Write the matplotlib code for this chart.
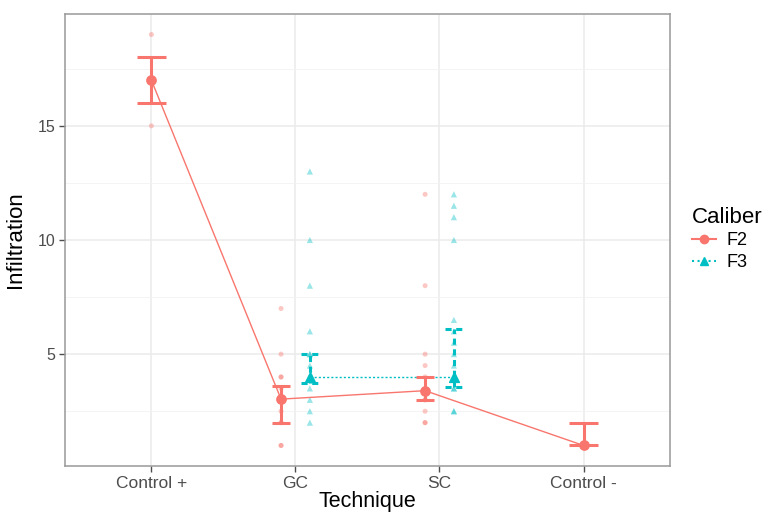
import numpy as np
import matplotlib
matplotlib.use("Agg")
import matplotlib.pyplot as plt
from matplotlib.lines import Line2D

plt.rcParams['font.family'] = ['Liberation Sans', 'DejaVu Sans']

techniques = ['Control +', 'GC', 'SC', 'Control -']

# raw observations per technique (F2)
f2_raw = {
    'Control +': [19, 15],
    'GC': [7, 5, 4, 4, 3.5, 3, 3, 2.5, 2, 2, 1, 1],
    'SC': [12, 8, 5, 4.5, 4, 3.5, 3, 3, 2.5, 2, 2],
    'Control -': [1, 1, 1],
}
# raw observations per technique (F3)
f3_raw = {
    'GC': [13, 10, 8, 6, 5, 5, 4.5, 4, 4, 4, 3.5, 3, 2.5, 2],
    'SC': [12, 11.5, 11, 10, 6.5, 6, 5.5, 5, 4.5, 4, 4, 3.5, 3.5, 2.5, 2.5],
}

# summary: mean with interval
f2_mean = [17, 3.03, 3.4, 1.0]
f2_low = [16, 2.0, 3.0, 1.0]
f2_high = [18, 3.6, 4.0, 2.0]

f3_tech = ['GC', 'SC']
f3_mean = [4.0, 4.0]
f3_low = [3.75, 3.55]
f3_high = [5.0, 6.1]

c_f2 = '#F8766D'
c_f3 = '#00BFC4'
dodge = 0.1

fig = plt.figure(figsize=(7.67, 5.12), dpi=100)
ax = fig.add_axes([0.0847, 0.0898, 0.7888, 0.8829])

xpos = {t: i + 1 for i, t in enumerate(techniques)}

def f2_x(t):
    return xpos[t] - dodge if t in f3_raw else xpos[t]

# raw points
for t, vals in f2_raw.items():
    ax.scatter([f2_x(t)] * len(vals), vals, s=13, color=c_f2, alpha=0.4,
               edgecolors='none', zorder=2)
for t, vals in f3_raw.items():
    ax.scatter([xpos[t] + dodge] * len(vals), vals, s=20, marker='^', color=c_f3,
               alpha=0.4, edgecolors='none', zorder=2)

# F2 means, line and error bars
x2 = [f2_x(t) for t in techniques]
ax.plot(x2, f2_mean, color=c_f2, lw=1, zorder=3)
for t, x, m, lo, hi in zip(techniques, x2, f2_mean, f2_low, f2_high):
    cap = 0.1 if t not in f3_raw else 0.06
    ax.vlines(x, lo, hi, color=c_f2, lw=2.2, zorder=4)
    ax.hlines([lo, hi], x - cap, x + cap, color=c_f2, lw=2.2, zorder=4)
ax.scatter(x2, f2_mean, s=45, color=c_f2, zorder=5)

# F3 means, line and error bars
x3 = [xpos[t] + dodge for t in f3_tech]
ax.plot(x3, f3_mean, color=c_f3, lw=1, ls=(0, (1.5, 1.5)), zorder=3)
for x, m, lo, hi in zip(x3, f3_mean, f3_low, f3_high):
    ax.vlines(x, lo, hi, color=c_f3, lw=2.2, linestyles=(0, (2, 1.5)), zorder=4)
    ax.hlines([lo, hi], x - 0.06, x + 0.06, color=c_f3, lw=2.2,
              linestyles=(0, (2, 1.5)), zorder=4)
ax.scatter(x3, f3_mean, s=50, marker='^', color=c_f3, zorder=5)

ax.set_xlim(0.4, 4.6)
ax.set_ylim(0.1, 19.9)
ax.set_xticks(range(1, 5))
ax.set_xticklabels(techniques)
ax.set_yticks([5, 10, 15])
ax.set_yticks([2.5, 7.5, 12.5, 17.5], minor=True)
ax.tick_params(axis='x', labelsize=12.5, colors='#4d4d4d', length=4, width=1, pad=3)
ax.tick_params(axis='y', labelsize=11.5, colors='#4d4d4d', length=4, width=1, pad=3)
ax.tick_params(axis='y', which='minor', length=0)
for lbl in ax.get_xticklabels() + ax.get_yticklabels():
    lbl.set_color('#4d4d4d')
ax.grid(True, which='major', color='#ebebeb', lw=1.1)
ax.grid(True, which='minor', axis='y', color='#f2f2f2', lw=0.6)
ax.set_axisbelow(True)
for sp in ax.spines.values():
    sp.set_color('#999999')
    sp.set_linewidth(1.1)

ax.set_xlabel('Technique', fontsize=15.5, labelpad=0)
ax.set_ylabel('Infiltration', fontsize=16, labelpad=8)

handles = [
    Line2D([0], [0], color=c_f2, lw=1.5, marker='o', markersize=6, label='F2'),
    Line2D([0], [0], color=c_f3, lw=1.5, ls=':', marker='^', markersize=6, label='F3'),
]
leg = fig.legend(handles=handles, title='Caliber', loc='upper left',
                 bbox_to_anchor=(0.893, 0.61), frameon=False, fontsize=13,
                 title_fontsize=16, handlelength=1.3, handletextpad=0.6,
                 labelspacing=0.25, borderaxespad=0)
leg._legend_box.align = 'left'

fig.savefig('out.png', dpi=100)
